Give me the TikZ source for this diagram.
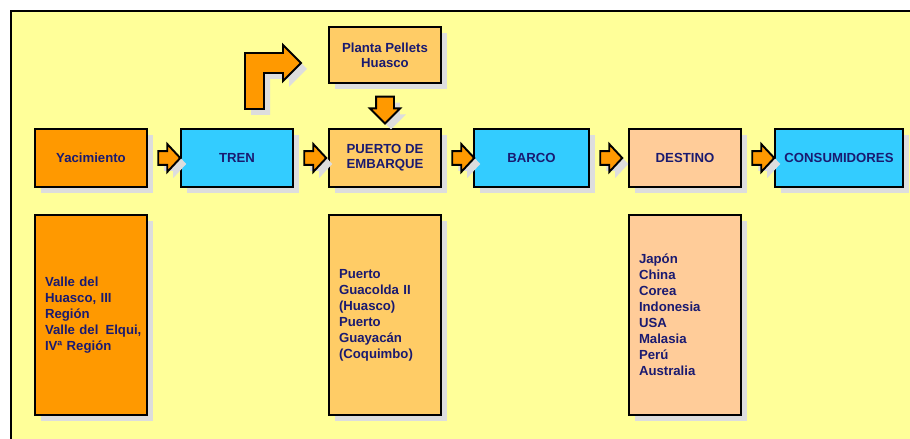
\documentclass[tikz,border=0pt]{standalone}
\usepackage{fontspec}
\setmainfont{Liberation Sans}
\usetikzlibrary{shapes.arrows,shadows}
\definecolor{bgyellow}{HTML}{FFFF99}
\definecolor{mineorange}{HTML}{FF9900}
\definecolor{trainblue}{HTML}{33CCFF}
\definecolor{portorange}{HTML}{FFCC66}
\definecolor{peach}{HTML}{FFCC99}
\definecolor{textnavy}{HTML}{1A1A70}
\definecolor{shadowgray}{HTML}{DDDDDD}
\tikzset{
  shade6/.style={drop shadow={shadow xshift=0.12cm,shadow yshift=-0.12cm,fill=shadowgray,opacity=1}},
  stagebox/.style={draw,line width=1.1pt,shade6,minimum width=2.24cm,minimum height=1.16cm,
    align=center,text=textnavy,font=\fontsize{7.5}{8.6}\selectfont\bfseries},
  listbox/.style={draw,line width=1.1pt,shade6,minimum height=4cm,text width=1.84cm,
    inner xsep=0.2cm,align=left,text=textnavy,font=\fontsize{7.5}{9.1}\selectfont\bfseries},
  blockarrow/.style={single arrow,draw,fill=mineorange,line width=1.1pt,shade6,
    inner sep=0.12cm,single arrow head extend=0.14cm,single arrow tip angle=94,
    minimum height=0.44cm},
}
\begin{document}
\begin{tikzpicture}[x=0.02cm,y=-0.02cm]
  \useasboundingbox (0,0) rectangle (910,439);
  \clip (0,0) rectangle (910,439);
  \draw[fill=bgyellow,line width=1.1pt] (11,11) rectangle (930,460);

  % etapas
  \node[stagebox,fill=mineorange] (yac) at (91,158) {Yacimiento};
  \node[stagebox,fill=trainblue] (tren) at (237,158) {TREN};
  \node[stagebox,fill=portorange] (puerto) at (385,158) {PUERTO DE\\EMBARQUE};
  \node[stagebox,fill=trainblue,minimum width=2.3cm] (barco) at (531.5,158) {BARCO};
  \node[stagebox,fill=peach] (destino) at (685,158) {DESTINO};
  \node[stagebox,fill=trainblue,minimum width=2.56cm] (cons) at (839,158) {CONSUMIDORES};
  \node[stagebox,fill=portorange,minimum height=1.12cm] (planta) at (385,55) {Planta Pellets\\Huasco};

  % detalle
  \node[listbox,fill=mineorange] (yacB) at (91,315) {Valle del\\Huasco, III\\Regi\'on\\\mbox{Valle del\hspace{0.2em} Elqui,}\\IVª Regi\'on};
  \node[listbox,fill=portorange] (puertoB) at (385,315) {Puerto\\Guacolda II\\(Huasco)\\Puerto\\Guayac\'an\\(Coquimbo)};
  \node[listbox,fill=peach] (destinoB) at (685,315) {Jap\'on\\China\\Corea\\Indonesia\\USA\\Malasia\\Per\'u\\Australia};

  % flechas
  \node[blockarrow] (a1) at (166,158) {};
  \node[blockarrow] (a2) at (312,158) {};
  \node[blockarrow] (a3) at (460,158) {};
  \node[blockarrow] (a4) at (608,158) {};
  \node[blockarrow] (a5) at (760,158) {};
  \node[blockarrow,shape border rotate=270,inner sep=0.16cm,single arrow head extend=0.12cm,
    single arrow tip angle=90,minimum height=0.46cm] (a6) at (385,105.5) {};
  \draw[fill=mineorange,line width=1.1pt,shade6,line join=miter]
    (245,109) -- (245,53) -- (283,53) -- (283,45) -- (301,63) -- (283,81)
    -- (283,73) -- (264,73) -- (264,109) -- cycle;
\end{tikzpicture}
\end{document}
